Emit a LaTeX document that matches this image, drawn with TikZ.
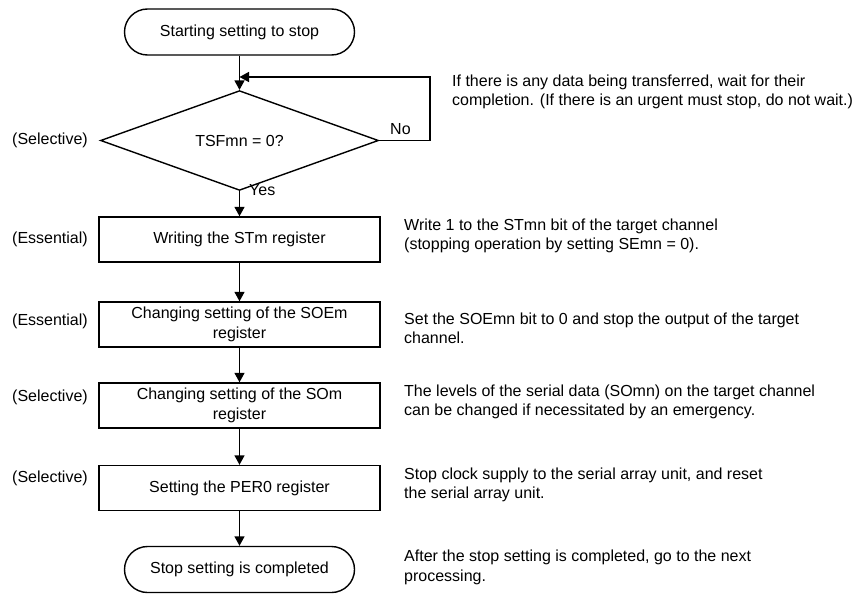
\documentclass[tikz,border=0pt]{standalone}
\usepackage{fontspec}
\setmainfont{Liberation Sans}
\usetikzlibrary{shapes.geometric,arrows.meta}
\begin{document}
\begin{tikzpicture}[x=1pt,y=-1pt,
  every node/.style={font=\fontsize{16}{19.5}\selectfont, text=black},
  line/.style={draw=black, line width=1.4pt},
  arr/.style={line, -{Triangle[length=9.5pt,width=10pt]}},
  term/.style={line, rectangle, rounded corners=23pt, minimum width=230pt, minimum height=46pt, inner sep=0pt},
  proc/.style={line, rectangle, minimum width=281pt, minimum height=45pt, inner sep=0pt, align=center},
  dec/.style={line, diamond, minimum width=278pt, minimum height=75pt, inner sep=0pt},
  side/.style={anchor=west, align=left, inner sep=0pt},
  lab/.style={anchor=west, inner sep=0pt}]
\useasboundingbox[fill=white] (0,0) rectangle (858,594);

\node[term] (start) at (239.5,32) {Starting setting to stop};
\node[dec] (dec) at (239.5,140.5) {TSFmn = 0?};
\node[proc] (stm) at (239.5,239.5) {Writing the STm register};
\node[proc] (soe) at (239.5,324.5) {Changing setting of the SOEm\\register};
\node[proc] (som) at (239.5,405.5) {Changing setting of the SOm\\register};
\node[proc] (per) at (239.5,488) {Setting the PER0 register};
\node[term] (stop) at (239.5,569.5) {Stop setting is completed};

\coordinate (lr) at (430,77);
\coordinate (lj) at (239.5,77);

\draw[arr] (start) -- (dec);
\draw[arr] (dec.east) -| (lr) -- (lj);
\draw[arr] (dec) -- (stm);
\draw[arr] (stm) -- (soe);
\draw[arr] (soe) -- (som);
\draw[arr] (som) -- (per);
\draw[arr] (per) -- (stop);

\node[lab] (no) at (390,129) {No};
\node[lab] (yes) at (249,190) {Yes};

\node[lab] (l1) at (12,140) {(Selective)};
\node[lab] (l2) at (12,239) {(Essential)};
\node[lab] (l3) at (12,321) {(Essential)};
\node[lab] (l4) at (12,397) {(Selective)};
\node[lab] (l5) at (12,478) {(Selective)};

\node[side] (t0) at (452,92) {If there is any data being transferred, wait for their\\completion. (If there is an urgent must stop, do not wait.)};
\node[side] (t1) at (404,236) {Write 1 to the STmn bit of the target channel\\(stopping operation by setting SEmn = 0).};
\node[side] (t2) at (404,328.5) {Set the SOEmn bit to 0 and stop the output of the target\\channel.};
\node[side] (t3) at (404,402) {The levels of the serial data (SOmn) on the target channel\\can be changed if necessitated by an emergency.};
\node[side] (t4) at (404,485) {Stop clock supply to the serial array unit, and reset\\the serial array unit.};
\node[side] (t5) at (404,567.5) {After the stop setting is completed, go to the next\\processing.};
\end{tikzpicture}
\end{document}
